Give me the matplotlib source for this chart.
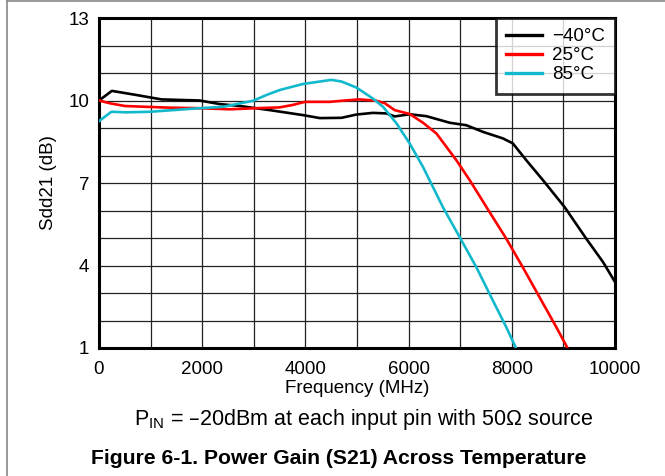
import matplotlib
matplotlib.use("Agg")
import matplotlib.pyplot as plt
from matplotlib.lines import Line2D

plt.rcParams['font.family'] = ['Liberation Sans', 'DejaVu Sans']

# -40 C
freq_m40 = [0, 250, 725, 1210, 1950, 2340, 2730, 3310, 3950, 4280, 4700, 4990,
            5310, 5570, 5730, 6020, 6345, 6800, 7120, 7440, 7830, 8020, 8280,
            8605, 9025, 9445, 9770, 10000]
gain_m40 = [10.0, 10.35, 10.2, 10.04, 10.0, 9.87, 9.8, 9.65, 9.47, 9.36, 9.37, 9.49,
            9.55, 9.53, 9.42, 9.5, 9.43, 9.19, 9.1, 8.86, 8.62, 8.44, 7.83,
            7.1, 6.12, 4.97, 4.12, 3.4]

# 25 C
freq_25 = [0, 207, 500, 920, 1370, 1950, 2535, 3050, 3500, 3760, 3990, 4470,
           4700, 5050, 5375, 5540, 5730, 6020, 6280, 6540, 6925, 7185, 7570,
           7895, 8215, 8540, 8865, 9080]
gain_25 = [10.0, 9.9, 9.8, 9.77, 9.74, 9.72, 9.68, 9.72, 9.75, 9.84, 9.95, 9.95,
           9.99, 10.04, 9.99, 9.9, 9.65, 9.51, 9.19, 8.8, 7.83, 7.1, 5.94,
           4.97, 3.93, 2.84, 1.75, 1.0]

# 85 C
freq_85 = [0, 240, 530, 985, 1435, 1950, 2400, 2985, 3245, 3500, 3950, 4500,
           4700, 4990, 5300, 5505, 5765, 6020, 6280, 6505, 6665, 6990, 7315,
           7635, 7895, 8080]
gain_85 = [9.25, 9.59, 9.57, 9.59, 9.65, 9.72, 9.77, 9.99, 10.2, 10.38, 10.6, 10.75,
           10.69, 10.47, 10.08, 9.77, 9.17, 8.44, 7.58, 6.73, 6.12, 5.03, 3.93,
           2.72, 1.75, 1.0]

labels = ['\u221240\u00b0C', '25\u00b0C', '85\u00b0C']
colors = ['black', '#ff0000', '#12b9cc']

x_ticks = [0, 2000, 4000, 6000, 8000, 10000]
y_ticks = [1, 4, 7, 10, 13]

fig = plt.figure(figsize=(6.65, 4.76), dpi=100)
ax = fig.add_axes([99 / 665, 128 / 476, 516 / 665, 330 / 476])

ax.plot(freq_m40, gain_m40, color=colors[0], lw=1.9, label=labels[0], zorder=3)
ax.plot(freq_25, gain_25, color=colors[1], lw=1.9, label=labels[1], zorder=3)
ax.plot(freq_85, gain_85, color=colors[2], lw=1.9, label=labels[2], zorder=3)

ax.set_xlim(0, 10000)
ax.set_ylim(1, 13)
ax.set_xticks(x_ticks)
ax.set_yticks(y_ticks)
ax.set_xticks(range(0, 10001, 1000), minor=True)
ax.set_yticks(range(1, 14), minor=True)
ax.grid(True, which='both', color='#222222', lw=0.9)
ax.tick_params(which='both', length=0, labelsize=13.5)
ax.tick_params(axis='x', pad=9)
ax.tick_params(axis='y', pad=7)
for s in ax.spines.values():
    s.set_linewidth(2.2)

ax.set_xlabel('Frequency (MHz)', fontsize=13.5, labelpad=2)
ax.set_ylabel('Sdd21 (dB)', fontsize=13.5, labelpad=8)

leg = ax.legend(loc='upper right', fontsize=13.5, frameon=True, fancybox=False,
                borderaxespad=0, handlelength=1.95, handletextpad=0.5,
                labelspacing=0.1, borderpad=0.55)
leg.get_frame().set_edgecolor('black')
leg.get_frame().set_linewidth(2.0)
for h in leg.get_lines():
    h.set_linewidth(2.4)

fig.text(363 / 665, 1 - 420 / 476,
         'P$_{\\mathregular{IN}}$ = \u201320dBm at each input pin with 50\u03a9 source',
         ha='center', va='center', fontsize=15.5)
fig.text(339 / 665, 1 - 458 / 476, 'Figure 6-1. Power Gain (S21) Across Temperature',
         ha='center', va='center', fontsize=15.2, fontweight='bold')

# gray frame at the left and top of the figure
fig.add_artist(Line2D([7 / 665, 7 / 665], [0, 1 - 1 / 476], color='#888888', lw=1.2))
fig.add_artist(Line2D([7 / 665, 1], [1 - 1 / 476, 1 - 1 / 476], color='#888888', lw=1.2))

fig.savefig('out.png', dpi=100)
